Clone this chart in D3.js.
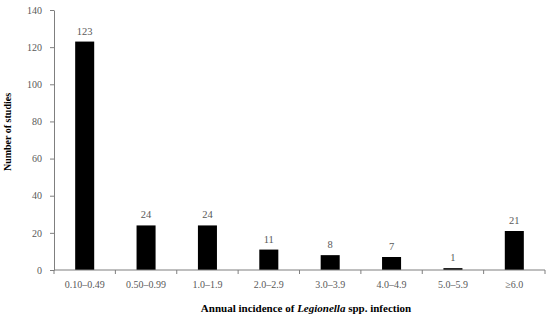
<!DOCTYPE html>
<html lang="en">
<head>
<meta charset="utf-8" />
<title></title>
<script src="https://d3js.org/d3.v7.min.js"></script>
<style>
    body { margin: 0; background: #fff; }
    svg { display: block; font-family: "Liberation Serif", "Times New Roman", serif; }
    .axis path, .axis line { stroke: #7f7f7f; }
    .axis text { fill: #595959; font-size: 10px; font-family: "Liberation Serif", serif; }
    .bar { fill: #000; }
    .val { fill: #595959; font-size: 10.5px; text-anchor: middle; }
    .title { font-weight: bold; font-size: 10px; fill: #000; }
</style>
</head>
<body>
<svg width="550" height="323"></svg>
<script>
    var categories = ["0.10\u20130.49", "0.50\u20130.99", "1.0\u20131.9", "2.0\u20132.9",
        "3.0\u20133.9", "4.0\u20134.9", "5.0\u20135.9", "\u22656.0"];
    var studies = [123, 24, 24, 11, 8, 7, 1, 21];
    var yTicks = [0, 20, 40, 60, 80, 100, 120, 140];

    var data = categories.map(function (c, i) { return { cat: c, n: studies[i] }; });

    var svg = d3.select("svg"),
        margin = { top: 10, right: 5, bottom: 53, left: 54 },
        width = +svg.attr("width") - margin.left - margin.right,
        height = +svg.attr("height") - margin.top - margin.bottom;

    var x = d3.scaleBand().domain(categories).range([0, width]).padding(0),
        y = d3.scaleLinear().domain([0, 140]).range([height, 0]);

    var g = svg.append("g")
        .attr("transform", "translate(" + margin.left + "," + margin.top + ")");

    var barW = x.bandwidth() * 0.31;

    g.selectAll(".bar")
        .data(data)
        .enter().append("rect")
        .attr("class", "bar")
        .attr("x", function (d) { return x(d.cat) + (x.bandwidth() - barW) / 2; })
        .attr("y", function (d) { return y(d.n); })
        .attr("width", barW)
        .attr("height", function (d) { return height - y(d.n); });

    g.selectAll(".val")
        .data(data)
        .enter().append("text")
        .attr("class", "val")
        .attr("x", function (d) { return x(d.cat) + x.bandwidth() / 2; })
        .attr("y", function (d) { return y(d.n) - 7; })
        .text(function (d) { return d.n; });

    // y axis
    g.append("g")
        .attr("class", "axis")
        .call(d3.axisLeft(y).tickValues(yTicks).tickSize(4).tickSizeOuter(0).tickPadding(8));

    // x axis: tick marks at band edges, labels centered in bands
    var edges = d3.range(categories.length + 1).map(function (i) { return i * x.step(); });
    var xa = g.append("g")
        .attr("class", "axis")
        .attr("transform", "translate(0," + height + ")");
    xa.append("line").attr("x1", 0).attr("x2", width).attr("y1", 0).attr("y2", 0);
    xa.selectAll(".tk")
        .data(edges)
        .enter().append("line")
        .attr("x1", function (d) { return d; }).attr("x2", function (d) { return d; })
        .attr("y1", 0).attr("y2", 4);
    xa.selectAll(".lbl")
        .data(categories)
        .enter().append("text")
        .attr("x", function (d) { return x(d) + x.bandwidth() / 2; })
        .attr("y", 18)
        .attr("text-anchor", "middle")
        .text(function (d) { return d; });

    // axis titles
    svg.append("text")
        .attr("class", "title")
        .attr("transform", "translate(11,132) rotate(-90)")
        .attr("text-anchor", "middle")
        .text("Number of studies");

    var xt = svg.append("text")
        .attr("class", "title")
        .attr("x", 306)
        .attr("y", 312)
        .attr("font-size", "11px")
        .style("font-size", "11px")
        .attr("text-anchor", "middle");
    xt.append("tspan").text("Annual incidence of ");
    xt.append("tspan").attr("font-style", "italic").text("Legionella");
    xt.append("tspan").text(" spp. infection");
</script>
</body>
</html>
